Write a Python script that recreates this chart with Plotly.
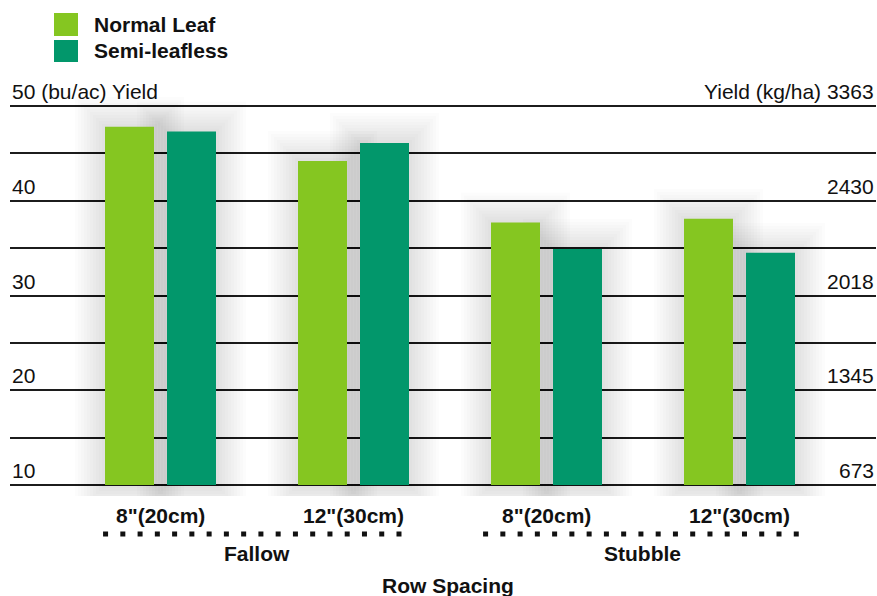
import plotly.graph_objects as go

# ---- data ----
spacings = ['8"(20cm)', '12"(30cm)', '8"(20cm)', '12"(30cm)']
systems = ['Fallow', 'Stubble']
system_members = [[0, 1], [2, 3]]
series_names = ['Normal Leaf', 'Semi-leafless']
normal_leaf = [47.8, 44.2, 37.7, 38.1]
semi_leafless = [47.3, 46.1, 34.9, 34.5]
left_ticks = [50, 40, 30, 20, 10]
left_labels = ['50 (bu/ac) Yield', '40', '30', '20', '10']
right_labels = ['Yield (kg/ha) 3363', '2430', '2018', '1345', '673']
x_title = 'Row Spacing'

colors = ['#85C621', '#02976B']
FONT = 'Liberation Sans, Arial, sans-serif'

# ---- geometry ----
W, H = 877, 596
ML, MR, MT, MB = 10, 1, 95, 100
PW, PH = W - ML - MR, H - MT - MB
GROUP_PX = 193.0              # px per category
UNIT_PX = 379 / 40.0          # px per y unit
x_lo = -150 / GROUP_PX
x_hi = x_lo + PW / GROUP_PX
y_lo = 10 - 11 / UNIT_PX
y_hi = 50 + 11 / UNIT_PX
BASE = 10

bar_w = 49 / GROUP_PX
offsets = [-55 / GROUP_PX, 7 / GROUP_PX]

def px_x(px):
    return (px - ML) / PW

def px_y(py):
    return (H - MB - py) / PH

xs = list(range(len(spacings)))
series = [normal_leaf, semi_leafless]

fig = go.Figure()

# soft drop-shadow layers derived from the data
for vals, off in zip(series, offsets):
    for k in range(1, 11):
        g = 3.0 * k
        fig.add_trace(go.Bar(
            x=xs, y=[v - BASE + 2 * g / UNIT_PX for v in vals],
            base=BASE - g / UNIT_PX,
            width=bar_w + 2 * g / GROUP_PX, offset=off - g / GROUP_PX,
            marker=dict(color='rgba(0,0,0,0.012)', line=dict(width=0)),
            showlegend=False, hoverinfo='skip'))

for name, vals, off, col in zip(series_names, series, offsets, colors):
    fig.add_trace(go.Bar(
        x=xs, y=[v - BASE for v in vals], base=BASE, name=name,
        width=bar_w, offset=off, opacity=1,
        marker=dict(color=col, line=dict(width=0)),
        showlegend=False))

ann = []
shapes = []
for t, ll, rl in zip(left_ticks, left_labels, right_labels):
    ann.append(dict(x=0, xref='paper', y=t, yref='y', text=ll, showarrow=False,
                    xanchor='left', yanchor='bottom', yshift=1,
                    font=dict(family=FONT, size=21, color='#111')))
    ann.append(dict(x=1, xref='paper', y=t, yref='y', text=rl, showarrow=False,
                    xanchor='right', yanchor='bottom', yshift=1,
                    font=dict(family=FONT, size=21, color='#111')))

for i, lab in zip(xs, spacings):
    ann.append(dict(x=i, xref='x', y=px_y(515), yref='paper', text='<b>%s</b>' % lab,
                    showarrow=False, xanchor='center', yanchor='middle',
                    font=dict(family=FONT, size=21, color='#111')))

dot_spans = [(-0.295, 0.256), (-0.326, 0.311)]
for name, mem, (a, b) in zip(systems, system_members, dot_spans):
    ann.append(dict(x=sum(mem) / len(mem), xref='x', y=px_y(553), yref='paper',
                    text='<b>%s</b>' % name, showarrow=False, xanchor='center',
                    yanchor='middle', font=dict(family=FONT, size=21, color='#111')))
    shapes.append(dict(type='line', xref='x', yref='paper', x0=mem[0] + a, x1=mem[-1] + b,
                       y0=px_y(534), y1=px_y(534),
                       line=dict(color='#111', width=5, dash='5px,12.26px')))

ann.append(dict(x=px_x(448), xref='paper', y=px_y(585), yref='paper',
                text='<b>%s</b>' % x_title, showarrow=False, xanchor='center',
                yanchor='middle', font=dict(family=FONT, size=21, color='#111')))

# manual legend
leg_rows = [(13, 36), (40, 62)]
for (y0, y1), name, col in zip(leg_rows, series_names, colors):
    shapes.append(dict(type='rect', xref='paper', yref='paper',
                       x0=px_x(54), x1=px_x(78), y0=px_y(y1), y1=px_y(y0),
                       fillcolor=col, line=dict(width=0)))
    ann.append(dict(x=px_x(92), xref='paper', y=px_y((y0 + y1) / 2), yref='paper',
                    text='<b>%s</b>' % name, showarrow=False, xanchor='left',
                    yanchor='middle', font=dict(family=FONT, size=21, color='#111')))

fig.update_layout(
    width=W, height=H,
    margin=dict(l=ML, r=MR, t=MT, b=MB, pad=0),
    paper_bgcolor='white', plot_bgcolor='white',
    barmode='overlay', showlegend=False, hovermode=False,
    xaxis=dict(range=[x_lo, x_hi], showgrid=False, zeroline=False,
               showticklabels=False, ticks='', showline=False),
    yaxis=dict(range=[y_lo, y_hi], tick0=10, dtick=5, showgrid=True,
               gridcolor='#1c1c1c', gridwidth=1.5, zeroline=False,
               showticklabels=False, ticks='', showline=False),
    annotations=ann, shapes=shapes,
    font=dict(family=FONT),
)

fig.write_html('out.html')
